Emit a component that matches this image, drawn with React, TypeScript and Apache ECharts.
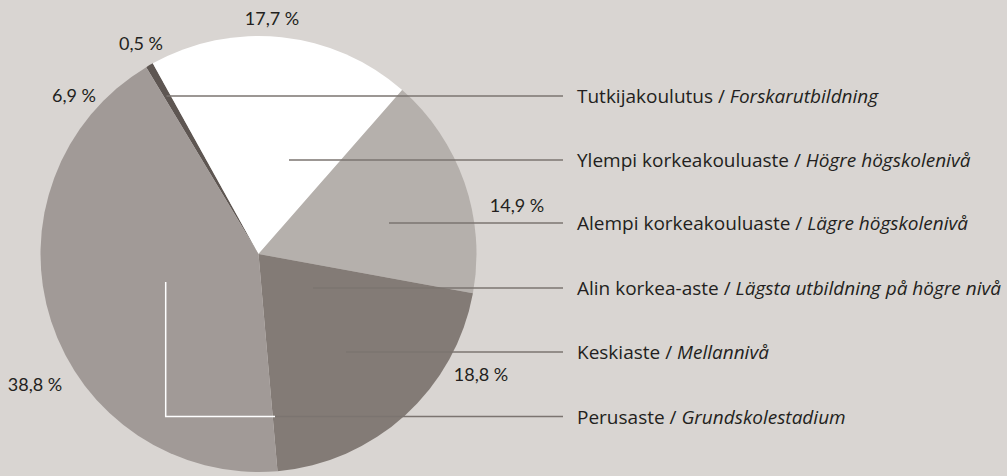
import React, { useEffect, useRef } from "react";
import * as echarts from "echarts";

// ---- data ----
const categoriesFi = [
  "Tutkijakoulutus",
  "Ylempi korkeakouluaste",
  "Alempi korkeakouluaste",
  "Alin korkea-aste",
  "Keskiaste",
  "Perusaste",
];
const categoriesSv = [
  "Forskarutbildning",
  "Högre högskolenivå",
  "Lägre högskolenivå",
  "Lägsta utbildning på högre nivå",
  "Mellannivå",
  "Grundskolestadium",
];
const shares = [0.5, 17.7, 14.9, 6.9, 18.8, 38.8];
// category not drawn as a slice in the original figure
const hiddenInPie = ["Alin korkea-aste"];

// ---- styles / layout ----
const sliceColors = ["#5e5652", "#ffffff", "#b5b0ac", "#a19a97", "#837b76", "#a19a97"];
const BG = "#d9d5d2";
const TEXT = "#231f20";
const LINE = "#7b7470";
const PCT_FONT = "Lato, 'Noto Sans', sans-serif";
const LEG_FONT = "'Open Sans', 'Noto Sans', sans-serif";
const LEG_SIZE = 19;
// percent label centres
const pctLabelPos: [number, number][] = [
  [141, 43],
  [272, 18],
  [517, 205],
  [74, 95],
  [481, 374],
  [35, 384],
];
// leader lines: start x, y
const leaderStart: [number, number][] = [
  [166.5, 96],
  [289, 160],
  [389, 223],
  [313, 288],
  [346, 352],
  [275, 416.5],
];
const leaderEndX = 563;
const legendTextX = 577;

const fmt = (v: number) => v.toFixed(1).replace(".", ",") + " %";

export default function App() {
  const ref = useRef<HTMLDivElement>(null);
  useEffect(() => {
    document.body.style.margin = "0";
    const chart = echarts.init(ref.current!, undefined, { renderer: "svg" });
    const selected: Record<string, boolean> = {};
    categoriesFi.forEach((c) => (selected[c] = !hiddenInPie.includes(c)));

    const graphics: any[] = [];
    shares.forEach((v, i) => {
      graphics.push({
        type: "text",
        x: pctLabelPos[i][0],
        y: pctLabelPos[i][1],
        z: 100,
        silent: true,
        style: {
          text: fmt(v),
          fill: TEXT,
          font: `18px ${PCT_FONT}`,
          align: "center",
          verticalAlign: "middle",
        },
      });
    });
    categoriesFi.forEach((c, i) => {
      const [sx, sy] = leaderStart[i];
      graphics.push({
        type: "line",
        silent: true,
        z: 100,
        shape: { x1: sx, y1: sy, x2: leaderEndX, y2: sy },
        style: { stroke: LINE, lineWidth: 1.3 },
      });
      graphics.push({
        type: "text",
        x: legendTextX,
        y: sy,
        z: 100,
        silent: true,
        style: {
          text: `{n|${c} /} {i|${categoriesSv[i]}}`,
          fill: TEXT,
          font: `${LEG_SIZE}px ${LEG_FONT}`,
          verticalAlign: "middle",
          rich: {
            n: { fontFamily: LEG_FONT, fontSize: LEG_SIZE, fill: TEXT },
            i: { fontFamily: LEG_FONT, fontSize: LEG_SIZE, fontStyle: "italic", fill: TEXT },
          },
        },
      });
    });
    // white bracket line inside the Perusaste slice
    graphics.push({
      type: "polyline",
      silent: true,
      z: 101,
      shape: {
        points: [
          [165.7, 282],
          [165.7, 416.5],
          [275, 416.5],
        ],
      },
      style: { stroke: "#ffffff", lineWidth: 1.5, fill: null },
    });

    chart.setOption({
      animation: false,
      backgroundColor: BG,
      legend: { show: false, data: categoriesFi, selected },
      series: [
        {
          type: "pie",
          center: [258.5, 254],
          radius: 218,
          startAngle: 121,
          clockwise: true,
          silent: true,
          z: 1,
          label: { show: false },
          labelLine: { show: false },
          emphasis: { disabled: true },
          itemStyle: { borderWidth: 0 },
          data: categoriesFi.map((c, i) => ({
            name: c,
            value: shares[i],
            itemStyle: { color: sliceColors[i] },
          })),
        },
      ],
      graphic: graphics,
    });
    return () => chart.dispose();
  }, []);
  return (
    <div
      ref={ref}
      style={{ position: "absolute", left: 0, top: 0, width: 1007, height: 476 }}
    />
  );
}
